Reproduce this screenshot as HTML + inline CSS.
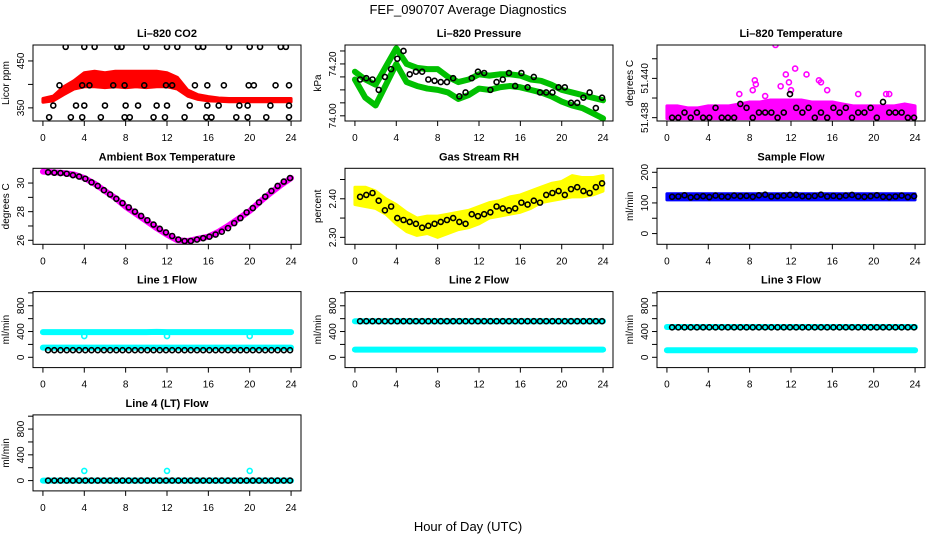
<!DOCTYPE html>
<html><head><meta charset="utf-8"><style>
body{margin:0;background:#fff}
svg{display:block;font-family:"Liberation Sans",Arial,sans-serif}
</style></head><body>
<svg id="chart" width="936" height="540" viewBox="0 0 936 540" xmlns="http://www.w3.org/2000/svg">
<rect width="936" height="540" fill="#fff"/>
<text x="468" y="14" font-size="13" text-anchor="middle">FEF_090707  Average Diagnostics</text>
<text x="468" y="531" font-size="13" text-anchor="middle">Hour of Day (UTC)</text>
</svg>
<script>
const hourGrid=[0,1,2,3,4,5,6,7,8,9,10,11,12,13,14,15,16,17,18,19,20,21,22,23,24];
const blackHours=[0.5,1.1,1.7,2.3,2.9,3.5,4.1,4.7,5.3,5.9,6.5,7.1,7.7,8.3,8.9,9.5,10.1,10.7,11.3,11.9,12.5,13.1,13.7,14.3,14.9,15.5,16.1,16.7,17.3,17.9,18.5,19.1,19.7,20.3,20.9,21.5,22.1,22.7,23.3,23.9];
const xTicks=[0,4,8,12,16,20,24];
// CO2
const co2Hi=[370,375,395,408,425,428,425,428,428,428,428,428,425,415,388,378,374,371,370,370,370,370,370,370,370];
const co2Lo=[362,365,378,390,395,395,393,395,393,395,393,395,395,390,375,368,365,364,363,363,363,363,363,363,363];
const co2BlackHours=[2.2,4,5,7.2,7.6,10,12,13,15,15.5,18,20,21,23,23.5,1.6,3.8,4.5,6.8,7.9,9.8,11.9,12.5,14.7,15.9,17.5,19.9,20.4,22.5,23.8,1,3.2,4,6,8,9.2,11,12,14.2,15.9,17,19,19.8,22,23.8,0.6,2.7,3.8,5.6,7.9,8.4,10.7,11.8,13.7,15.8,16.3,18.7,19.8,21.6,23.8];
const co2BlackVals=[480,480,480,480,480,480,480,480,480,480,480,480,480,480,480,398,398,398,398,398,398,398,398,398,398,398,398,398,398,398,355,355,355,355,355,355,355,355,355,355,355,355,355,355,355,330,330,330,330,330,330,330,330,330,330,330,330,330,330,330];
// Pressure
const presUpper=[74.17,74.14,74.12,74.19,74.26,74.20,74.185,74.18,74.18,74.15,74.13,74.14,74.16,74.155,74.16,74.16,74.155,74.14,74.135,74.12,74.10,74.09,74.08,74.07,74.06];
const presLower=[74.14,74.07,74.04,74.12,74.20,74.13,74.115,74.105,74.10,74.09,74.065,74.08,74.105,74.10,74.11,74.115,74.11,74.10,74.09,74.075,74.055,74.04,74.03,74.01,73.99];
const presBlack=[74.14,74.145,74.14,74.10,74.15,74.18,74.22,74.25,74.16,74.17,74.17,74.14,74.135,74.13,74.13,74.145,74.075,74.09,74.145,74.17,74.165,74.10,74.13,74.14,74.165,74.115,74.165,74.11,74.15,74.09,74.09,74.09,74.11,74.11,74.05,74.05,74.07,74.09,74.03,74.07];
// Temperature
const tempHi=[51.4386,51.4386,51.4385,51.4385,51.4386,51.4386,51.4386,51.4387,51.4388,51.4388,51.4389,51.4389,51.4389,51.4389,51.4388,51.4388,51.4388,51.4387,51.4386,51.4386,51.4386,51.4386,51.4386,51.4387,51.4386];
const tempLo=[51.43795,51.43795,51.43795,51.43795,51.43795,51.43795,51.43795,51.43795,51.43795,51.43795,51.43795,51.43795,51.43795,51.43795,51.43795,51.43795,51.43795,51.43795,51.43795,51.43795,51.43795,51.43795,51.43795,51.43795,51.43795];
const tempOutHours=[10.5,12.4,13.5,11.5,8.5,14.7,8.3,8.6,11.8,7,12,15.5,18.5,21.2,14.9,11,21.5,9.5];
const tempOutVals=[51.4417,51.4405,51.4402,51.4402,51.4399,51.4399,51.4394,51.4397,51.4398,51.4392,51.4394,51.4394,51.4392,51.4392,51.4398,51.4396,51.4392,51.4391];
const tempBlack=[51.438,51.438,51.43826,51.438,51.43826,51.438,51.438,51.4385,51.438,51.438,51.438,51.4387,51.4385,51.438,51.43826,51.43826,51.43826,51.438,51.43826,51.4392,51.4385,51.43826,51.4385,51.438,51.43826,51.438,51.4385,51.43826,51.4385,51.438,51.43826,51.43826,51.4385,51.438,51.4388,51.43826,51.43826,51.43826,51.438,51.438];
// Ambient
const ambVals=[30.8,30.75,30.7,30.6,30.35,29.95,29.45,28.95,28.35,27.85,27.35,26.85,26.4,26.0,25.95,26.1,26.25,26.6,27.05,27.55,28.05,28.7,29.3,29.85,30.35];
const ambBlack=[30.75,30.72,30.7,30.65,30.55,30.45,30.3,30.05,29.8,29.5,29.2,28.9,28.6,28.3,28.0,27.7,27.4,27.1,26.8,26.55,26.3,26.05,25.95,25.95,26.05,26.15,26.25,26.4,26.6,26.85,27.2,27.55,27.95,28.25,28.65,29.05,29.45,29.8,30.1,30.35];
// RH
const rhHi=[2.43,2.43,2.42,2.40,2.385,2.365,2.35,2.355,2.355,2.36,2.365,2.37,2.38,2.39,2.395,2.405,2.41,2.42,2.43,2.44,2.445,2.46,2.455,2.455,2.46];
const rhLo=[2.385,2.38,2.375,2.36,2.335,2.315,2.305,2.31,2.30,2.31,2.32,2.325,2.335,2.35,2.355,2.36,2.365,2.375,2.39,2.395,2.40,2.405,2.405,2.41,2.42];
const rhBlack=[2.405,2.41,2.415,2.395,2.37,2.38,2.35,2.345,2.34,2.335,2.325,2.33,2.335,2.34,2.345,2.35,2.34,2.335,2.36,2.355,2.36,2.365,2.38,2.375,2.37,2.375,2.39,2.385,2.395,2.39,2.41,2.415,2.42,2.41,2.425,2.43,2.42,2.415,2.43,2.44];
// Sample flow
const sampleHi=[130,130,130,130,130,130,130,130,130,130,130,130,130,130,130,130,130,130,130,130,130,130,130,130,130];
const sampleLo=[110,110,110,110,110,110,110,110,110,110,110,110,110,110,110,110,110,110,110,110,110,110,110,110,110];
const sampleBlack=[120,121,125,118,120,122,119,124,121,120,124,122,123,120,125,127,121,122,124,126,126,122,121,123,127,121,123,121,124,126,121,120,122,125,120,119,121,124,119,122];
// Line flows
const line1CyanA=[390,390,390,390,390,390,390,390,390,390,390,395,390,390,390,390,390,390,390,390,390,390,390,390,390];
const line1CyanB=[150,150,150,150,150,150,150,150,150,150,150,150,150,150,150,150,150,150,150,150,150,150,150,150,150];
const line1Black=[110,110,110,110,110,110,110,110,110,110,110,110,110,110,110,110,110,110,110,110,110,110,110,110,110,110,110,110,110,110,110,110,110,110,110,110,110,110,110,110];
const line1OutHours=[4,12,20];
const line1OutVals=[330,330,330];
const line2CyanA=[560,560,560,560,560,560,560,560,560,560,560,560,560,560,560,560,560,560,560,560,560,560,560,560,560];
const line2CyanB=[120,120,120,120,120,120,120,120,120,120,120,120,120,120,120,120,120,120,120,120,120,120,120,120,120];
const line2Black=[560,560,560,560,560,560,560,560,560,560,560,560,560,560,560,560,560,560,560,560,560,560,560,560,560,560,560,560,560,560,560,560,560,560,560,560,560,560,560,560];
const line3CyanA=[470,470,470,470,470,470,470,470,470,470,470,470,470,470,470,470,470,470,470,470,470,470,470,470,470];
const line3CyanB=[110,110,110,110,110,110,110,110,110,110,110,110,110,110,110,110,110,110,110,110,110,110,110,110,110];
const line3Black=[465,465,465,465,465,465,465,465,465,465,465,465,465,465,465,465,465,465,465,465,465,465,465,465,465,465,465,465,465,465,465,465,465,465,465,465,465,465,465,465];
const line4Cyan=[0,0,0,0,0,0,0,0,0,0,0,0,0,0,0,0,0,0,0,0,0,0,0,0,0];
const line4Black=[0,0,0,0,0,0,0,0,0,0,0,0,0,0,0,0,0,0,0,0,0,0,0,0,0,0,0,0,0,0,0,0,0,0,0,0,0,0,0,0];
const line4OutHours=[4,12,20];
const line4OutVals=[150,150,150];

const NS="http://www.w3.org/2000/svg";
const svg=document.getElementById('chart');
function mk(tag,attrs,parent){const e=document.createElementNS(NS,tag);for(const k in attrs)e.setAttribute(k,attrs[k]);(parent||svg).appendChild(e);return e;}
const W=268,H=76;
function panel(col,row,ylim,yticks,ylabels,title,ylab,slug){
  const x0=33+312*col,y0=45+123.3*row;
  const p={x0,y0,ylim};
  p.sx=h=>x0+(h+0.96)/25.92*W;
  p.sy=v=>y0+H-(v-ylim[0])/(ylim[1]-ylim[0])*H;
  const g=mk('g',{});
  
  
  p.g=g;
  p.data=mk('g',{'clip-path':'url(#clip'+slug+')'},g);
  const cp=mk('clipPath',{id:'clip'+slug},g);
  mk('rect',{x:x0,y:y0,width:W,height:H},cp);
  const t=mk('text',{x:x0+W/2,y:y0-8,'font-size':11,'font-weight':'bold','text-anchor':'middle'},g);
  t.textContent=title;
  
  
  const yl=mk('text',{transform:`translate(${x0-24},${y0+H/2}) rotate(-90)`,'font-size':10,'text-anchor':'middle'},g);
  yl.textContent=ylab;
  
  
  const box=mk('rect',{x:x0,y:y0,width:W,height:H,fill:'none',stroke:'#000','stroke-width':1},g);
  
  
  xTicks.forEach(h=>{
    const x=p.sx(h);
    mk('line',{x1:x,x2:x,y1:y0+H,y2:y0+H+5,stroke:'#000'},g);
    const tl=mk('text',{x:x,y:y0+H+20,'font-size':10,'text-anchor':'middle'},g);
    tl.textContent=h;
    
    
  });
  yticks.forEach(v=>{
    const y=p.sy(v);
    mk('line',{x1:x0-5,x2:x0,y1:y,y2:y,stroke:'#000'},g);
  });
  ylabels.forEach(v=>{
    const y=p.sy(v);
    const tl=mk('text',{transform:`translate(${x0-9},${y}) rotate(-90)`,'font-size':10,'text-anchor':'middle'},g);
    tl.textContent=v;
    
    
  });
  return p;
}
function pts(p,hours,vals,color,name,r){
  hours.forEach((h,i)=>{
    const c=mk('circle',{cx:p.sx(h),cy:p.sy(vals[i]),r:r||2.5,fill:'none',stroke:color,'stroke-width':1.6},p.data);
    
    
  });
}
function band(p,hours,hi,lo,color,name){
  let d='M'+hours.map((h,i)=>p.sx(h)+','+p.sy(hi[i])).join('L');
  for(let i=hours.length-1;i>=0;i--)d+='L'+p.sx(hours[i])+','+p.sy(lo[i]);
  const e=mk('path',{d:d+'Z',fill:color,stroke:color,'stroke-width':3,'stroke-linejoin':'round'},p.data);
  
  
}
function line(p,hours,vals,color,w,name){
  const e=mk('polyline',{points:hours.map((h,i)=>p.sx(h)+','+p.sy(vals[i])).join(' '),fill:'none',stroke:color,'stroke-width':w,'stroke-linejoin':'round','stroke-linecap':'round'},p.data);
  
  
}
const flowTicks=[0,200,400,600,800,1000], flowLabels=[0,400,800], flowLim=[-160,1020];
let p;
p=panel(0,0,[322,484],[350,400,450],[350,450],'Li–820 CO2','Licor ppm','co2');
band(p,hourGrid,co2Hi,co2Lo,'#ff0000','co2-band');
pts(p,co2BlackHours,co2BlackVals,'#000','co2-point');
p=panel(1,0,[73.98,74.273],[74.00,74.05,74.10,74.15,74.20,74.25],['74.00','74.20'],'Li–820 Pressure','kPa','pressure');
line(p,hourGrid,presUpper,'#00c000',6,'pressure-upper-band');
line(p,hourGrid,presLower,'#00c000',6,'pressure-lower-band');
pts(p,blackHours,presBlack,'#000','pressure-point');
p=panel(2,0,[51.43783,51.4417],[51.438,51.439,51.440,51.441],['51.438','51.440'],'Li–820 Temperature','degrees C','temperature');
band(p,hourGrid,tempHi,tempLo,'#ff00ff','temperature-band');
pts(p,tempOutHours,tempOutVals,'#ff00ff','temperature-outlier');
pts(p,blackHours,tempBlack,'#000','temperature-point');
p=panel(0,1,[25.72,31.03],[26,27,28,29,30],[26,28,30],'Ambient Box Temperature','degrees C','ambient');
line(p,hourGrid,ambVals,'#ff00ff',6,'ambient-band');
pts(p,blackHours,ambBlack,'#000','ambient-point');
p=panel(1,1,[2.282,2.479],[2.30,2.35,2.40,2.45],['2.30','2.40'],'Gas Stream RH','percent','rh');
band(p,hourGrid,rhHi,rhLo,'#ffff00','rh-band');
pts(p,blackHours,rhBlack,'#000','rh-point');
p=panel(2,1,[-35,213],[0,50,100,150,200],[0,100,200],'Sample Flow','ml/min','sample-flow');
band(p,hourGrid,sampleHi,sampleLo,'#0000ff','sample-flow-band');
pts(p,blackHours,sampleBlack,'#000','sample-flow-point');
p=panel(0,2,flowLim,flowTicks,flowLabels,'Line 1 Flow','ml/min','line1');
line(p,hourGrid,line1CyanA,'#00ffff',6,'line1-cyan-upper');
line(p,hourGrid,line1CyanB,'#00ffff',6,'line1-cyan-lower');
pts(p,line1OutHours,line1OutVals,'#00ffff','line1-outlier');
pts(p,blackHours,line1Black,'#000','line1-point');
p=panel(1,2,flowLim,flowTicks,flowLabels,'Line 2 Flow','ml/min','line2');
line(p,hourGrid,line2CyanA,'#00ffff',6,'line2-cyan-upper');
line(p,hourGrid,line2CyanB,'#00ffff',6,'line2-cyan-lower');
pts(p,blackHours,line2Black,'#000','line2-point');
p=panel(2,2,flowLim,flowTicks,flowLabels,'Line 3 Flow','ml/min','line3');
line(p,hourGrid,line3CyanA,'#00ffff',6,'line3-cyan-upper');
line(p,hourGrid,line3CyanB,'#00ffff',6,'line3-cyan-lower');
pts(p,blackHours,line3Black,'#000','line3-point');
p=panel(0,3,flowLim,flowTicks,flowLabels,'Line 4 (LT) Flow','ml/min','line4');
line(p,hourGrid,line4Cyan,'#00ffff',6,'line4-cyan');
pts(p,line4OutHours,line4OutVals,'#00ffff','line4-outlier');
pts(p,blackHours,line4Black,'#000','line4-point');
</script>
</body></html>
